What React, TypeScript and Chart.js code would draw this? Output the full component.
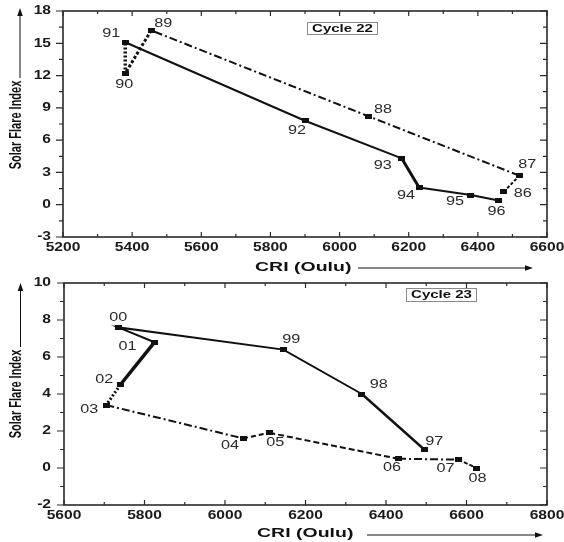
import React, { useEffect, useRef } from "react";
import { Chart, registerables } from "chart.js";
Chart.register(...registerables);

// ---------- Data ----------
const cycle22Years = ["86", "87", "88", "89", "90", "91", "92", "93", "94", "95", "96"];
const cycle22CRI = [6475, 6520, 6085, 5455, 5380, 5380, 5900, 6180, 6230, 6380, 6460];
const cycle22SFI = [1.2, 2.7, 8.2, 16.2, 12.2, 15.1, 7.8, 4.3, 1.6, 0.9, 0.4];

const cycle23Years = ["97", "98", "99", "00", "01", "02", "03", "04", "05", "06", "07", "08"];
const cycle23CRI = [6495, 6340, 6145, 5735, 5825, 5740, 5705, 6045, 6110, 6430, 6580, 6625];
const cycle23SFI = [1.0, 4.0, 6.4, 7.6, 6.8, 4.5, 3.4, 1.6, 1.9, 0.5, 0.45, 0.0];

const cycle22XRange = [5200, 6600, 200, 100]; // min, max, major, minor
const cycle22YRange = [-3, 18, 3, 1.5];
const cycle23XRange = [5600, 6800, 200, 100];
const cycle23YRange = [-2, 10, 2, 1];

const xTitle = "CRI (Oulu)";
const yTitle = "Solar Flare Index";
const cycle22Title = "Cycle 22";
const cycle23Title = "Cycle 23";

// ---------- Styles ----------
type Seg = { dash: number[]; width: number };
const DASHDOT = [8, 3, 2, 3];
const cycle22Segs: Seg[] = [
  { dash: [3, 2], width: 2 },
  { dash: DASHDOT, width: 2 },
  { dash: DASHDOT, width: 2 },
  { dash: [3, 2], width: 3 },
  { dash: [2, 2], width: 3.5 },
  { dash: [], width: 2 },
  { dash: [], width: 2 },
  { dash: [], width: 3 },
  { dash: [], width: 2 },
  { dash: [], width: 2 },
];
const cycle23Segs: Seg[] = [
  { dash: [], width: 2.4 },
  { dash: [], width: 2 },
  { dash: [], width: 2 },
  { dash: [], width: 2 },
  { dash: [], width: 3.5 },
  { dash: [2, 2], width: 3 },
  { dash: DASHDOT, width: 2 },
  { dash: [5, 3], width: 2 },
  { dash: [6, 3], width: 2 },
  { dash: DASHDOT, width: 2 },
  { dash: [4, 2], width: 2 },
];
const cycle22LabelOffsets = [
  [19, 2], [8, -11], [14, -7], [12, -7], [-1, 11], [-14, -9],
  [-8, 10], [-19, 7], [-13, 8], [-16, 7], [-2, 11],
];
const cycle23LabelOffsets = [
  [10, -8], [17, -9], [8, -10], [0, -10], [-27, 4], [-16, -5],
  [-17, 5], [-13, 7], [6, 10], [-6, 9], [-13, 9], [1, 11],
];

const FONT = '"Liberation Sans", Arial, sans-serif';

function txt(
  ctx: CanvasRenderingContext2D, s: string, x: number, y: number, font: string,
  sx: number, align: CanvasTextAlign = "center", color = "#111"
) {
  ctx.save();
  ctx.translate(x, y);
  ctx.scale(sx, 1);
  ctx.font = font;
  ctx.textAlign = align;
  ctx.textBaseline = "middle";
  ctx.fillStyle = color;
  ctx.fillText(s, 0, 0);
  ctx.restore();
}

function arrow(ctx: CanvasRenderingContext2D, x1: number, y1: number, x2: number, y2: number) {
  const ang = Math.atan2(y2 - y1, x2 - x1);
  const L = 8, W = 2.8;
  ctx.save();
  ctx.strokeStyle = "#111";
  ctx.fillStyle = "#111";
  ctx.lineWidth = 1;
  ctx.beginPath();
  ctx.moveTo(x1, y1);
  ctx.lineTo(x2 - Math.cos(ang) * L * 0.8, y2 - Math.sin(ang) * L * 0.8);
  ctx.stroke();
  ctx.beginPath();
  ctx.moveTo(x2, y2);
  ctx.lineTo(x2 - Math.cos(ang) * L - Math.sin(ang) * W, y2 - Math.sin(ang) * L + Math.cos(ang) * W);
  ctx.lineTo(x2 - Math.cos(ang) * L + Math.sin(ang) * W, y2 - Math.sin(ang) * L - Math.cos(ang) * W);
  ctx.closePath();
  ctx.fill();
  ctx.restore();
}

type Layout = {
  height: number;
  top: number;
  left: number;
  bottom: number;
  xTitleX: number; xTitleY: number; xArrow: [number, number, number];
  yTitleX: number; yTitleY: number; yArrow: [number, number, number];
  box: [number, number, number, number];
};

function makeDecor(
  years: string[], offsets: number[][], xr: number[], yr: number[], cycle: string, L: Layout
) {
  return {
    id: "decor",
    afterDraw(chart: any) {
      const ctx: CanvasRenderingContext2D = chart.ctx;
      const a = chart.chartArea;
      const xs = chart.scales.x;
      const ys = chart.scales.y;
      ctx.save();
      // frame
      ctx.strokeStyle = "#2a2a2a";
      ctx.lineWidth = 1.6;
      ctx.strokeRect(a.left, a.top, a.right - a.left, a.bottom - a.top);
      // ticks
      ctx.lineWidth = 1.2;
      ctx.beginPath();
      const isMajor = (v: number, min: number, step: number) => {
        const r = (v - min) / step;
        return Math.abs(r - Math.round(r)) < 1e-6;
      };
      for (let v = xr[0]; v <= xr[1] + 1e-9; v += xr[3]) {
        const px = xs.getPixelForValue(v);
        const maj = isMajor(v, xr[0], xr[2]);
        const len = maj ? 5 : 3;
        ctx.moveTo(px, a.bottom); ctx.lineTo(px, a.bottom - len);
        ctx.moveTo(px, a.top); ctx.lineTo(px, a.top + len);
      }
      for (let v = yr[0]; v <= yr[1] + 1e-9; v += yr[3]) {
        const py = ys.getPixelForValue(v);
        const maj = isMajor(v, yr[0], yr[2]);
        ctx.moveTo(a.left, py); ctx.lineTo(a.left - (maj ? 7 : 4), py);
        ctx.moveTo(a.right, py); ctx.lineTo(a.right - (maj ? 7 : 4), py);
      }
      ctx.stroke();
      // tick labels
      const tickFont = `bold 12px ${FONT}`;
      xs.ticks.forEach((t: any) => {
        txt(ctx, String(t.value), xs.getPixelForValue(t.value), a.bottom + 11, tickFont, 1.3, "center", "#1a1a1a");
      });
      ys.ticks.forEach((t: any) => {
        txt(ctx, String(t.value), 51, ys.getPixelForValue(t.value), tickFont, 1.3, "right", "#1a1a1a");
      });
      // x title + arrow
      txt(ctx, xTitle, L.xTitleX, L.xTitleY, `bold 13px ${FONT}`, 1.5, "left", "#111");
      arrow(ctx, L.xArrow[0], L.xArrow[2], L.xArrow[1], L.xArrow[2]);
      // y title + arrow
      ctx.save();
      ctx.translate(L.yTitleX, L.yTitleY);
      ctx.scale(1.45, 1);
      ctx.rotate(-Math.PI / 2);
      ctx.font = `bold 11px ${FONT}`;
      ctx.textAlign = "center";
      ctx.textBaseline = "middle";
      ctx.fillStyle = "#111";
      ctx.fillText(yTitle, 0, 0);
      ctx.restore();
      arrow(ctx, L.yArrow[0], L.yArrow[1], L.yArrow[0], L.yArrow[2]);
      // cycle box
      const [bx, by, bw, bh] = L.box;
      ctx.fillStyle = "#fff";
      ctx.fillRect(bx, by, bw, bh);
      ctx.strokeStyle = "#8a8a8a";
      ctx.lineWidth = 1;
      ctx.strokeRect(bx + 0.5, by + 0.5, bw, bh);
      txt(ctx, cycle, bx + bw / 2 + 0.5, by + bh / 2 + 1, `bold 10px ${FONT}`, 1.5, "center", "#111");
      // point labels
      const meta = chart.getDatasetMeta(0);
      meta.data.forEach((el: any, i: number) => {
        const o = offsets[i];
        txt(ctx, years[i], el.x + o[0], el.y + o[1], `12px ${FONT}`, 1.35, "center", "#2a2a2a");
      });
      ctx.restore();
    },
  };
}

function buildChart(
  canvas: HTMLCanvasElement, marker: HTMLCanvasElement,
  years: string[], cri: number[], sfi: number[], segs: Seg[], offsets: number[][],
  xr: number[], yr: number[], cycle: string, L: Layout
) {
  const pts = cri.map((x, i) => ({ x, y: sfi[i] }));
  return new Chart(canvas, {
    type: "line",
    data: {
      datasets: [
        {
          data: pts,
          borderColor: "#111",
          borderWidth: 2,
          borderCapStyle: "butt",
          tension: 0,
          fill: false,
          pointStyle: marker as any,
          pointRadius: 4,
          pointBackgroundColor: "#111",
          segment: {
            borderDash: (c: any) => segs[c.p0DataIndex].dash,
            borderWidth: (c: any) => segs[c.p0DataIndex].width,
          },
        } as any,
      ],
    },
    options: {
      responsive: false,
      animation: false,
      devicePixelRatio: 1,
      events: [],
      layout: { padding: { left: 0, right: 564 - 547, top: L.top, bottom: 0 } },
      plugins: { legend: { display: false }, tooltip: { enabled: false } },
      scales: {
        x: {
          type: "linear",
          min: xr[0],
          max: xr[1],
          ticks: { stepSize: xr[2], display: false },
          grid: { display: false, drawTicks: false },
          border: { display: false },
          afterFit: (s: any) => { s.height = L.height - L.bottom; },
        },
        y: {
          type: "linear",
          min: yr[0],
          max: yr[1],
          ticks: { stepSize: yr[2], display: false },
          grid: { display: false, drawTicks: false },
          border: { display: false },
          afterFit: (s: any) => { s.width = L.left; },
        },
      },
    } as any,
    plugins: [makeDecor(years, offsets, xr, yr, cycle, L)],
  });
}

const TOP_H = 276;
const BOT_H = 266;

const layout22: Layout = {
  height: TOP_H, top: 11, left: 63, bottom: 237,
  xTitleX: 255, xTitleY: 267, xArrow: [358, 533, 268],
  yTitleX: 17, yTitleY: 125, yArrow: [20, 78, 8],
  box: [307, 22, 70, 12],
};
const layout23: Layout = {
  height: BOT_H, top: 7, left: 64, bottom: 229,
  xTitleX: 257, xTitleY: 257, xArrow: [367, 543, 259],
  yTitleX: 17, yTitleY: 118, yArrow: [20.5, 71, 7],
  box: [406, 12, 70, 13],
};

export default function App() {
  const r1 = useRef<HTMLCanvasElement>(null);
  const r2 = useRef<HTMLCanvasElement>(null);
  useEffect(() => {
    const marker = document.createElement("canvas");
    marker.width = 7;
    marker.height = 5;
    const mctx = marker.getContext("2d")!;
    mctx.fillStyle = "#111";
    mctx.fillRect(0, 0, 7, 5);
    const c1 = buildChart(r1.current!, marker, cycle22Years, cycle22CRI, cycle22SFI, cycle22Segs,
      cycle22LabelOffsets, cycle22XRange, cycle22YRange, cycle22Title, layout22);
    const c2 = buildChart(r2.current!, marker, cycle23Years, cycle23CRI, cycle23SFI, cycle23Segs,
      cycle23LabelOffsets, cycle23XRange, cycle23YRange, cycle23Title, layout23);
    return () => {
      c1.destroy();
      c2.destroy();
    };
  }, []);
  return (
    <div style={{ position: "absolute", left: 0, top: 0, width: 564, height: 542, background: "#fff" }}>
      <canvas ref={r1} width={564} height={TOP_H} style={{ display: "block", width: 564, height: TOP_H }} />
      <canvas ref={r2} width={564} height={BOT_H} style={{ display: "block", width: 564, height: BOT_H }} />
    </div>
  );
}
